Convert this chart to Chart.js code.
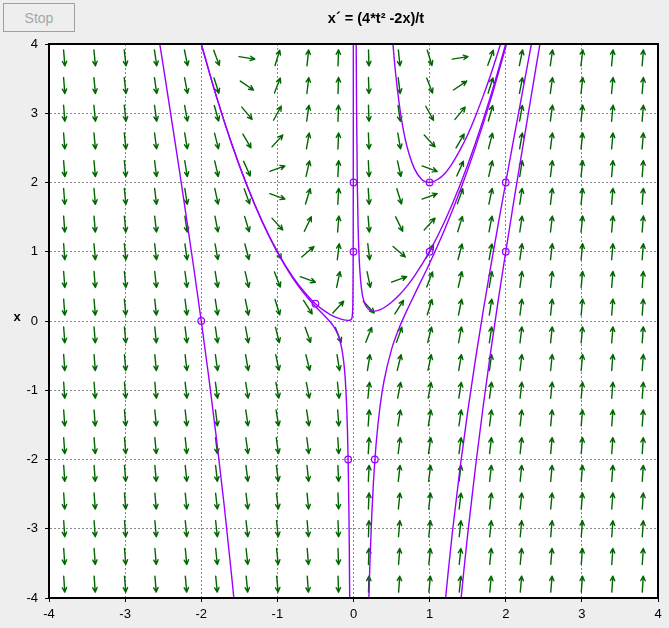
<!DOCTYPE html>
<html><head><meta charset="utf-8">
<script src="https://cdn.jsdelivr.net/npm/chart.js@4.4.0/dist/chart.umd.min.js"></script>
<style>
html,body{margin:0;padding:0;background:#eeeeee;}
#wrap{position:relative;width:669px;height:628px;overflow:hidden;}
canvas{position:absolute;left:0;top:0;}
#stop{position:absolute;left:3px;top:3px;width:72px;height:29px;box-sizing:border-box;border:1px solid #a0a0a0;background:#eeeeee;color:#a6a6a6;font:14px 'Liberation Sans',Arial,sans-serif;padding:0;margin:0;}
</style></head><body>
<div id="wrap"><canvas id="c" width="669" height="628"></canvas><button id="stop" disabled>Stop</button></div>
<script>
// ---- data ----
const titleText = 'x\u00B4 = (4*t\u00B2 -2x)/t';
const yTitle = 'x';
const axisMin = -4, axisMax = 4;

// slope-field grid (t columns, x rows)
const tGrid = [-3.8,-3.4,-3.0,-2.6,-2.2,-1.8,-1.4,-1.0,-0.6,-0.2,0.2,0.6,1.0,1.4,1.8,2.2,2.6,3.0,3.4,3.8];
const xGrid = [-3.8,-3.4,-3.0,-2.6,-2.2,-1.8,-1.4,-1.0,-0.6,-0.2,0.2,0.6,1.0,1.4,1.8,2.2,2.6,3.0,3.4,3.8];

// solution curves (t, x)
const curveA_t = [-2.545,-2.5,-2.4,-2.3,-2.2,-2.1,-2.0,-1.9,-1.8,-1.7,-1.6,-1.572];
const curveA_x = [4.0,3.69,2.98,2.27,1.53,0.78,0.0,-0.82,-1.70,-2.65,-3.69,-4.0];

const curveD_t = [-2.0,-1.8,-1.6,-1.4,-1.2,-1.0,-0.8,-0.6,-0.5,-0.4,-0.3,-0.2,-0.15,-0.1,-0.066,-0.05,-0.03,-0.02,-0.012,-0.008,-0.005,-0.004,-0.003,-0.0025,-0.0022,-0.0021];
const curveD_x = [4.0,3.24,2.56,1.96,1.44,1.0,0.64,0.36,0.25,0.16,0.09,0.0405,0.023,0.012,0.0088,0.010,0.022,0.048,0.132,0.30,0.76,1.19,2.11,3.04,3.93,4.3];

const curveE_t = [-2.0,-1.8,-1.6,-1.4,-1.2,-1.0,-0.8,-0.6,-0.5,-0.4,-0.35,-0.3,-0.25,-0.2,-0.16,-0.13,-0.11,-0.09,-0.08,-0.07,-0.065,-0.06,-0.055,-0.05];
const curveE_x = [4.0,3.237,2.556,1.955,1.433,0.99,0.624,0.332,0.21,0.0975,0.041,-0.021,-0.0975,-0.21,-0.365,-0.575,-0.81,-1.23,-1.556,-2.036,-2.36,-2.774,-3.303,-4.0];

const curveG_t = [0.0354,0.04,0.05,0.06,0.07,0.08,0.1,0.12,0.15,0.2,0.25,0.3,0.35,0.4,0.5,0.6,0.7,0.8,1.0,1.2,1.4,1.6,1.8,2.0];
const curveG_x = [4.0,3.13,2.0,1.39,1.03,0.79,0.51,0.36,0.245,0.165,0.1425,0.146,0.163,0.191,0.27,0.374,0.50,0.648,1.005,1.4435,1.963,2.562,3.2415,4.0];

const curveF_t = [0.202,0.21,0.22,0.24,0.26,0.28,0.3,0.35,0.4,0.5,0.6,0.7,0.8,1.0,1.2,1.4,1.6,1.8,2.0,2.01];
const curveF_x = [-4.0,-3.70,-3.36,-2.81,-2.37,-2.03,-1.74,-1.22,-0.87,-0.41,-0.10,0.15,0.38,0.835,1.33,1.88,2.50,3.19,3.96,4.0];

const curveU_t = [0.518,0.55,0.6,0.65,0.7,0.8,0.9,1.0,1.1,1.2,1.3,1.4,1.5,1.6,1.7,1.8,1.9,1.932];
const curveU_x = [4.0,3.61,3.14,2.79,2.53,2.20,2.04,2.0,2.04,2.13,2.28,2.47,2.69,2.95,3.24,3.55,3.89,4.0];

const curveP_t = [1.21,1.25,1.3,1.4,1.5,1.6,1.7,1.8,1.9,2.0,2.1,2.2,2.3,2.337];
const curveP_x = [-4.0,-3.56,-3.04,-2.12,-1.31,-0.57,0.12,0.77,1.39,2.0,2.60,3.19,3.78,4.0];

const curveQ_t = [1.414,1.45,1.5,1.6,1.7,1.8,1.9,2.0,2.1,2.2,2.3,2.4,2.449];
const curveQ_x = [-4.0,-3.60,-3.08,-2.13,-1.26,-0.46,0.29,1.0,1.69,2.36,3.02,3.68,4.0];

// initial-value markers
const markT = [-2,-0.5,0,0,1,1,2,2,-0.07,0.28];
const markX = [0,0.25,1,2,1,2,1,2,-2,-2];

// the equation in the title: x' = (4t^2 - 2x)/t
function slope(t, x){ return (4*t*t - 2*x)/t; }

// ---- drawing ----
const FONT = "'Liberation Sans', Arial, sans-serif";
const PURPLE = '#9a00ff';
const GREEN = '#006600';
const pts = (ts, xs) => ts.map((t,i)=>({x:t, y:xs[i]}));

function curve(ts, xs){
  return {data: pts(ts, xs), showLine:true, borderColor:PURPLE, borderWidth:1.4,
          pointRadius:0, pointHoverRadius:0, fill:false, cubicInterpolationMode:'monotone'};
}

const fieldPlugin = {
  id:'field',
  beforeDraw(chart){
    const {ctx, chartArea:a} = chart;
    ctx.save(); ctx.fillStyle='#ffffff';
    ctx.fillRect(a.left, a.top, a.right-a.left, a.bottom-a.top);
    ctx.restore();
  },
  beforeDatasetsDraw(chart){
    const {ctx} = chart, xs = chart.scales.x, ys = chart.scales.y;
    const L = 16, H = 5, ang = 0.45;
    ctx.save();
    ctx.strokeStyle = GREEN; ctx.lineWidth = 1.4; ctx.lineCap='round';
    for (const t of tGrid){
      for (const x of xGrid){
        const s = slope(t,x), h = 0.01;
        const px = xs.getPixelForValue(t), py = ys.getPixelForValue(x);
        let ux = xs.getPixelForValue(t+h)-px, uy = ys.getPixelForValue(x+s*h)-py;
        const n = Math.hypot(ux,uy); ux/=n; uy/=n;
        const x0 = px-ux*L/2, y0 = py-uy*L/2, x1 = px+ux*L/2, y1 = py+uy*L/2;
        ctx.beginPath(); ctx.moveTo(x0,y0); ctx.lineTo(x1,y1);
        const a0 = Math.atan2(uy,ux);
        ctx.moveTo(x1,y1); ctx.lineTo(x1-H*Math.cos(a0-ang), y1-H*Math.sin(a0-ang));
        ctx.moveTo(x1,y1); ctx.lineTo(x1-H*Math.cos(a0+ang), y1-H*Math.sin(a0+ang));
        ctx.stroke();
      }
    }
    ctx.restore();
  },
  afterDatasetsDraw(chart){
    const {ctx, chartArea:a} = chart;
    ctx.save(); ctx.strokeStyle='#000'; ctx.lineWidth=2;
    ctx.strokeRect(a.left, a.top, a.right-a.left, a.bottom-a.top);
    ctx.restore();
  },
  afterDraw(chart){
    const {ctx} = chart;
    ctx.save(); ctx.fillStyle='#000'; ctx.textAlign='center'; ctx.textBaseline='middle';
    ctx.font = 'bold 14.5px ' + FONT;
    ctx.fillText(titleText, 376, 19);
    ctx.font = 'bold 13px ' + FONT;
    ctx.fillText(yTitle, 17, 317);
    ctx.restore();
  }
};

const axis = (fitFn) => ({
  type:'linear', min:axisMin, max:axisMax,
  ticks:{stepSize:1, color:'#000', font:{family:FONT, size:13}, maxRotation:0, autoSkip:false},
  grid:{color:'#888888', lineWidth:1, tickLength:4, tickColor:'#000', tickWidth:1},
  border:{display:true, color:'#000', width:2, dash:[2,2]},
  afterFit: fitFn
});

const xAxis = axis(s=>{ s.height = 30; });
xAxis.ticks.padding = 5;
const yAxis = axis(s=>{ s.width = 49; });
yAxis.ticks.padding = 7;

new Chart(document.getElementById('c'), {
  type:'scatter',
  data:{ datasets:[
    curve(curveA_t, curveA_x),
    curve(curveD_t, curveD_x),
    curve(curveE_t, curveE_x),
    curve(curveG_t, curveG_x),
    curve(curveF_t, curveF_x),
    curve(curveU_t, curveU_x),
    curve(curveP_t, curveP_x),
    curve(curveQ_t, curveQ_x),
    {data: pts(markT, markX), showLine:false, pointStyle:'circle', pointRadius:3.3,
     pointBorderColor:PURPLE, pointBackgroundColor:'rgba(0,0,0,0)', pointBorderWidth:1.2, pointHoverRadius:3.3}
  ]},
  options:{
    responsive:false, animation:false, devicePixelRatio:1,
    layout:{padding:{top:44, right:11, left:0, bottom:0}},
    plugins:{legend:{display:false}, tooltip:{enabled:false}, title:{display:false}},
    events:[],
    scales:{ x:xAxis, y:yAxis }
  },
  plugins:[fieldPlugin]
});
</script>
</body></html>
